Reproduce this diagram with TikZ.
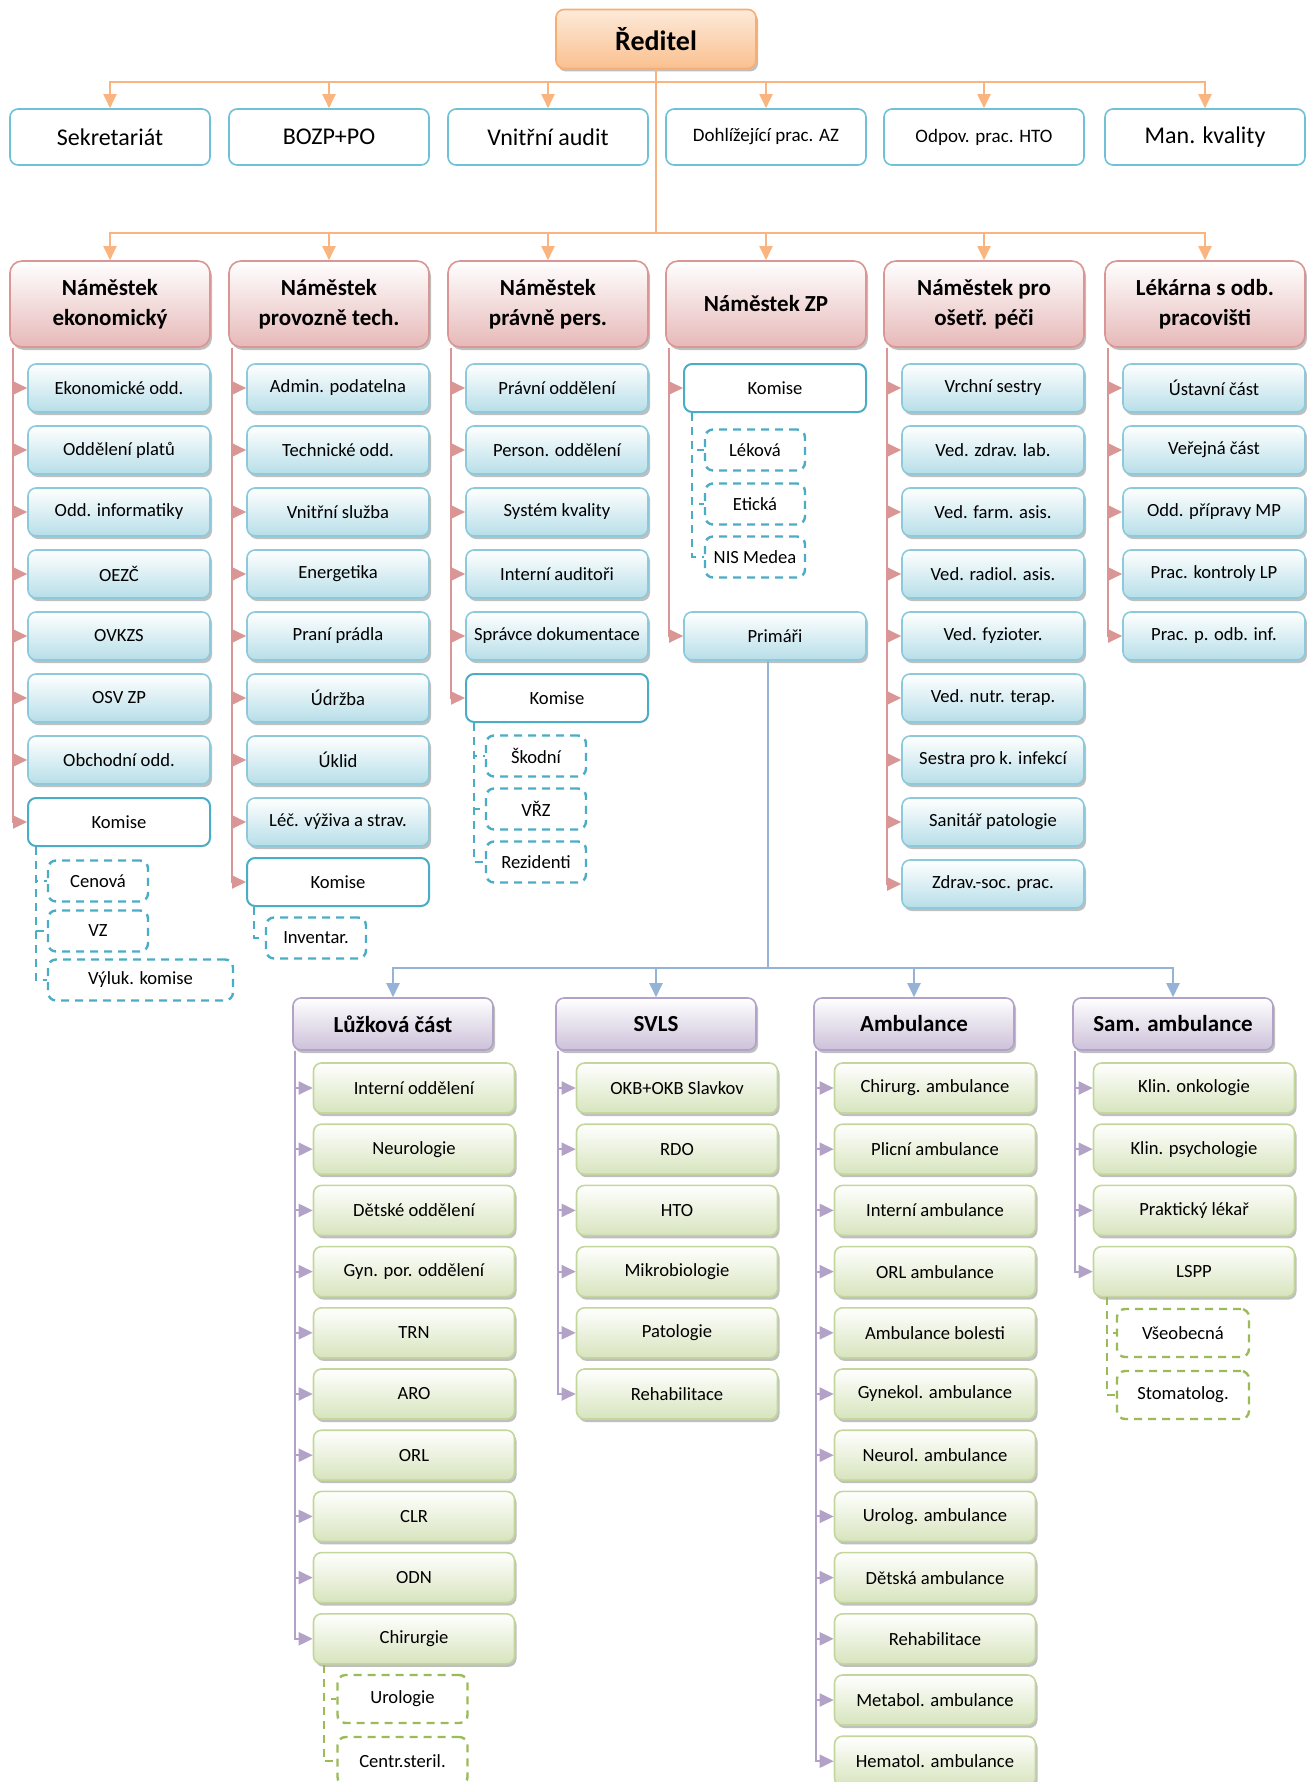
\documentclass[tikz,border=0pt]{standalone}
\usepackage{fontspec}
\setmainfont{Carlito}
\usetikzlibrary{arrows.meta,shadows}

\definecolor{orline}{HTML}{F9B47F}
\definecolor{ortop}{HTML}{FDEADA}
\definecolor{orbot}{HTML}{FAC08F}
\definecolor{orframe}{HTML}{F8AE72}
\definecolor{staffblue}{HTML}{6FC1D7}
\definecolor{redline}{HTML}{D99694}
\definecolor{redbot}{HTML}{E6B9B8}
\definecolor{deptframe}{HTML}{8CCADB}
\definecolor{deptbot}{HTML}{B7DEE8}
\definecolor{komblue}{HTML}{4BACC6}
\definecolor{priline}{HTML}{95B3D7}
\definecolor{violine}{HTML}{B3A2C7}
\definecolor{viobot}{HTML}{CCC1DA}
\definecolor{grframe}{HTML}{C3D69B}
\definecolor{grbot}{HTML}{D7E4BD}
\definecolor{grdash}{HTML}{9BBB59}

\begin{document}
\begin{tikzpicture}[x=0.5pt,y=-0.5pt,
    box/.style={rounded corners=4pt,align=center,inner sep=1pt,font=\fontsize{9.3}{11}\selectfont},
    shadowed/.style={drop shadow={shadow xshift=1pt,shadow yshift=-1.5pt,fill=black,opacity=0.25}},
    boss/.style={box,draw=orframe,line width=0.8pt,top color=ortop,bottom color=orbot,minimum width=100pt,minimum height=29.5pt,font=\bfseries\fontsize{14}{16}\selectfont,shadowed},
    staff/.style={box,draw=staffblue,line width=0.8pt,fill=white,minimum width=100pt,minimum height=28pt,font=\fontsize{12}{14}\selectfont},
    deputy/.style={box,draw=redline,line width=0.8pt,top color=white,bottom color=redbot,rounded corners=6pt,minimum width=100pt,minimum height=43pt,font=\bfseries\fontsize{11.5}{15}\selectfont,shadowed},
    dept/.style={box,draw=deptframe,line width=0.8pt,top color=white,bottom color=deptbot,minimum width=91pt,minimum height=24pt,shadowed},
    komise/.style={box,draw=komblue,line width=1pt,fill=white,minimum width=91pt,minimum height=24pt},
    sub/.style={box,draw=komblue,line width=1.2pt,dash pattern=on 4pt off 3pt,minimum width=50pt,minimum height=20.5pt},
    part/.style={box,draw=violine,line width=0.8pt,top color=white,bottom color=viobot,minimum width=100pt,minimum height=26pt,font=\bfseries\fontsize{11.5}{14}\selectfont,shadowed},
    ward/.style={box,draw=grframe,line width=0.8pt,top color=white,bottom color=grbot,minimum width=100.5pt,minimum height=25pt,shadowed},
    gsub/.style={box,draw=grdash,line width=1.2pt,dash pattern=on 4pt off 3pt,minimum width=65pt,minimum height=24pt},
    arr/.style={-{Triangle[length=7pt,width=6.5pt]}},
    orpath/.style={draw=orline,line width=1pt},
    redpath/.style={draw=redline,line width=1pt,arr},
    subpath/.style={draw=komblue,line width=1.2pt,dash pattern=on 4pt off 3pt},
    bluepath/.style={draw=priline,line width=1pt},
    viopath/.style={draw=violine,line width=1pt,arr},
    grpath/.style={draw=grdash,line width=1.2pt,dash pattern=on 4pt off 3pt}
  ]
  \useasboundingbox (0,0) rectangle (1306,1782);

  % director and staff
  \node[boss] (rd) at (656,39) {Ředitel};
  \node[staff] (s1) at (110,137) {Sekretariát};
  \node[staff] (s2) at (329,137) {BOZP+PO};
  \node[staff] (s3) at (548,137) {Vnitřní audit};
  \node[staff,font=\fontsize{9.5}{11}\selectfont] (s4) at (766,137) {Dohlížející prac. AZ};
  \node[staff,font=\fontsize{9.5}{11}\selectfont] (s5) at (984,137) {Odpov. prac. HTO};
  \node[staff] (s6) at (1205,137) {Man. kvality};

  %deputies
  \node[deputy] (d1) at (110,304) {Náměstek\\ekonomický};
  \node[deputy] (d2) at (329,304) {Náměstek\\provozně tech.};
  \node[deputy] (d3) at (548,304) {Náměstek\\právně pers.};
  \node[deputy] (d4) at (766,304) {Náměstek ZP};
  \node[deputy] (d5) at (984,304) {Náměstek pro\\ošetř. péči};
  \node[deputy] (d6) at (1205,304) {Lékárna s odb.\\pracovišti};

  \coordinate (j1) at (656,82);
  \coordinate (j2) at (656,233);
  \draw[orpath] (rd.south) -- (j2);
  \foreach \i in {1,...,6} {
    \draw[orpath,arr] (j1) -| (s\i.north);
    \draw[orpath,arr] (j2) -| (d\i.north);
    \coordinate (t\i) at ([xshift=2pt]d\i.south west);
  }

  %departments
  \foreach \t [count=\i] in {Ekonomické odd.,Oddělení platů,Odd. informatiky,OEZČ,OVKZS,OSV ZP,Obchodní odd.}
    \node[dept] (e\i) at (119,{388+62*(\i-1)}) {\t};
  \node[komise] (ke) at (119,822) {Komise};
  \foreach \t [count=\i] in {Admin. podatelna,Technické odd.,Vnitřní služba,Energetika,Praní prádla,Údržba,Úklid,Léč. výživa a strav.}
    \node[dept] (p\i) at (338,{388+62*(\i-1)}) {\t};
  \node[komise] (kp) at (338,882) {Komise};
  \foreach \t [count=\i] in {Právní oddělení,Person. oddělení,Systém kvality,Interní auditoři,Správce dokumentace}
    \node[dept] (r\i) at (557,{388+62*(\i-1)}) {\t};
  \node[komise] (kr) at (557,698) {Komise};
  \node[komise] (kz) at (775,388) {Komise};
  \node[dept] (pri) at (775,636) {Primáři};
  \foreach \t [count=\i] in {Vrchní sestry,Ved. zdrav. lab.,Ved. farm. asis.,Ved. radiol. asis.,Ved. fyzioter.,Ved. nutr. terap.,Sestra pro k. infekcí,Sanitář patologie,Zdrav.-soc. prac.}
    \node[dept] (o\i) at (993,{388+62*(\i-1)}) {\t};
  \foreach \t [count=\i] in {Ústavní část,Veřejná část,Odd. přípravy MP,Prac. kontroly LP,Prac. p. odb. inf.}
    \node[dept] (l\i) at (1214,{388+62*(\i-1)}) {\t};

  \foreach \i in {1,...,7} \draw[redpath] (t1) |- (e\i.west);
  \draw[redpath] (t1) |- (ke.west);
  \foreach \i in {1,...,8} \draw[redpath] (t2) |- (p\i.west);
  \draw[redpath] (t2) |- (kp.west);
  \foreach \i in {1,...,5} \draw[redpath] (t3) |- (r\i.west);
  \draw[redpath] (t3) |- (kr.west);
  \draw[redpath] (t4) |- (kz.west);
  \draw[redpath] (t4) |- (pri.west);
  \foreach \i in {1,...,9} \draw[redpath] (t5) |- (o\i.west);
  \foreach \i in {1,...,5} \draw[redpath] (t6) |- (l\i.west);

  %commissions
  \node[sub] (ce1) at (98,881) {Cenová};
  \node[sub] (ce2) at (98,931) {VZ};
  \node[sub,minimum width=92.5pt] (ce3) at (140.5,980) {Výluk. komise};
  \node[sub] (cp1) at (316,938) {Inventar.};
  \node[sub] (cr1) at (536,756) {Škodní};
  \node[sub] (cr2) at (536,809) {VŘZ};
  \node[sub] (cr3) at (536,862) {Rezidenti};
  \node[sub] (cz1) at (755,450) {Léková};
  \node[sub] (cz2) at (755,504) {Etická};
  \node[sub] (cz3) at (755,557) {NIS Medea};

  \coordinate (ue) at ([xshift=4.5pt]ke.south west);
  \coordinate (up) at ([xshift=4pt]kp.south west);
  \coordinate (ur) at ([xshift=4.5pt]kr.south west);
  \coordinate (uz) at ([xshift=4.5pt]kz.south west);
  \foreach \i in {1,2,3} {
    \draw[subpath] (ue) |- (ce\i.west);
    \draw[subpath] (ur) |- (cr\i.west);
    \draw[subpath] (uz) |- (cz\i.west);
  }
  \draw[subpath] (up) |- (cp1.west);

  %primari
  \node[part] (g1) at (393,1024) {Lůžková část};
  \node[part] (g2) at (656,1024) {SVLS};
  \node[part] (g3) at (914,1024) {Ambulance};
  \node[part] (g4) at (1173,1024) {Sam. ambulance};
  \coordinate (j3) at (768,968);
  \draw[bluepath] (pri.south -| j3) -- (j3);
  \foreach \i in {1,...,4} {
    \draw[bluepath,arr] (j3) -| (g\i.north);
    \coordinate (h\i) at ([xshift=1.5pt]g\i.south west);
  }

  \foreach \t [count=\i] in {Interní oddělení,Neurologie,Dětské oddělení,Gyn. por. oddělení,TRN,ARO,ORL,CLR,ODN,Chirurgie}
    \node[ward] (w\i) at (414,{1088+61.2*(\i-1)}) {\t};
  \foreach \t [count=\i] in {OKB+OKB Slavkov,RDO,HTO,Mikrobiologie,Patologie,Rehabilitace}
    \node[ward] (v\i) at (677,{1088+61.2*(\i-1)}) {\t};
  \foreach \t [count=\i] in {Chirurg. ambulance,Plicní ambulance,Interní ambulance,ORL ambulance,Ambulance bolesti,Gynekol. ambulance,Neurol. ambulance,Urolog. ambulance,Dětská ambulance,Rehabilitace,Metabol. ambulance,Hematol. ambulance}
    \node[ward] (a\i) at (935,{1088+61.2*(\i-1)}) {\t};
  \foreach \t [count=\i] in {Klin. onkologie,Klin. psychologie,Praktický lékař,LSPP}
    \node[ward] (m\i) at (1194,{1088+61.2*(\i-1)}) {\t};

  \foreach \i in {1,...,10} \draw[viopath] (h1) |- (w\i.west);
  \foreach \i in {1,...,6} \draw[viopath] (h2) |- (v\i.west);
  \foreach \i in {1,...,12} \draw[viopath] (h3) |- (a\i.west);
  \foreach \i in {1,...,4} \draw[viopath] (h4) |- (m\i.west);

  %sub wards
  \node[gsub] (gw1) at (402.5,1699) {Urologie};
  \node[gsub] (gw2) at (402.5,1761) {Centr.steril.};
  \node[gsub,minimum width=66pt] (gm1) at (1183,1333) {Všeobecná};
  \node[gsub,minimum width=66pt] (gm2) at (1183,1395) {Stomatolog.};
  \coordinate (uw) at ([xshift=5.5pt]w10.south west);
  \coordinate (um) at ([xshift=7pt]m4.south west);
  \foreach \i in {1,2} {
    \draw[grpath] (uw) |- (gw\i.west);
    \draw[grpath] (um) |- (gm\i.west);
  }
\end{tikzpicture}
\end{document}
